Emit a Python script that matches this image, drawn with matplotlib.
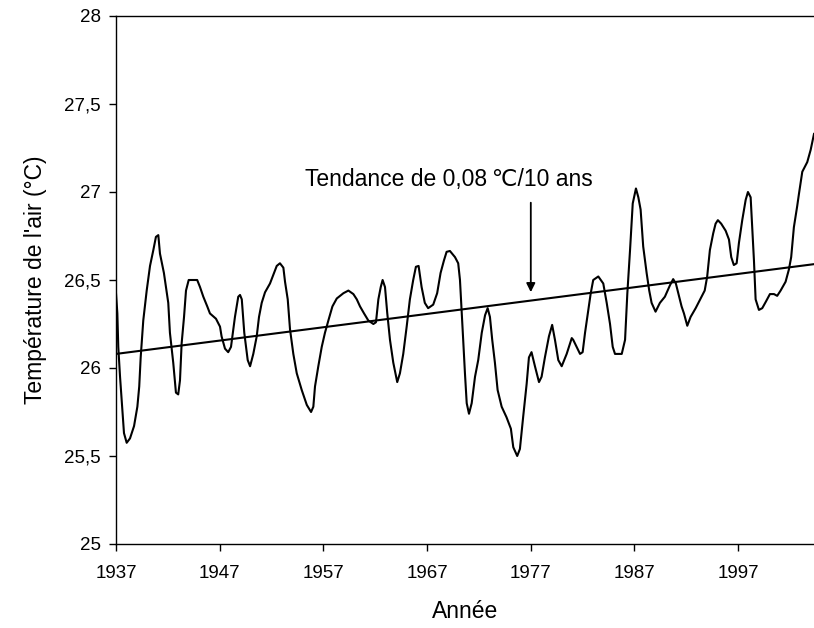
import matplotlib
matplotlib.use('Agg')
import matplotlib.pyplot as plt
from matplotlib.ticker import FuncFormatter

plt.rcParams['font.family'] = ['Liberation Sans', 'DejaVu Sans']

# air temperature curve (smoothed)
years = [
    1937.00, 1937.13, 1937.22, 1937.39, 1937.64, 1937.77, 1938.03, 1938.35, 1938.74, 1939.06,
    1939.24, 1939.38, 1939.63, 1939.96, 1940.28, 1940.60, 1940.85, 1941.08, 1941.24, 1941.62,
    1942.04, 1942.20, 1942.52, 1942.78, 1943.00, 1943.17, 1943.33, 1943.56, 1943.75, 1944.01,
    1944.83, 1945.10, 1945.42, 1945.80, 1946.06, 1946.64, 1947.03, 1947.18, 1947.51, 1947.82,
    1948.09, 1948.47, 1948.79, 1948.96, 1949.13, 1949.37, 1949.70, 1949.93, 1950.24, 1950.57,
    1950.79, 1951.05, 1951.37, 1951.85, 1952.17, 1952.50, 1952.81, 1953.14, 1953.30, 1953.56,
    1953.78, 1954.10, 1954.43, 1954.91, 1955.40, 1955.81, 1956.03, 1956.19, 1956.51, 1956.84,
    1957.15, 1957.48, 1957.87, 1958.29, 1958.93, 1959.41, 1959.89, 1960.22, 1960.53, 1960.92,
    1961.33, 1961.82, 1962.07, 1962.30, 1962.53, 1962.71, 1962.94, 1963.16, 1963.42, 1963.74,
    1964.12, 1964.38, 1964.70, 1965.03, 1965.34, 1965.66, 1965.92, 1966.18, 1966.47, 1966.78,
    1967.10, 1967.59, 1967.97, 1968.30, 1968.62, 1968.88, 1969.20, 1969.69, 1970.00, 1970.17,
    1970.32, 1970.48, 1970.65, 1970.82, 1971.04, 1971.30, 1971.62, 1971.93, 1972.27, 1972.59,
    1972.84, 1973.06, 1973.28, 1973.54, 1973.80, 1974.19, 1974.66, 1975.08, 1975.31, 1975.69,
    1975.95, 1976.26, 1976.60, 1976.82, 1977.07, 1977.40, 1977.79, 1978.04, 1978.36, 1978.75,
    1979.06, 1979.33, 1979.65, 1979.98, 1980.46, 1980.95, 1981.09, 1981.75, 1982.00, 1982.23,
    1982.55, 1982.78, 1983.02, 1983.51, 1983.99, 1984.32, 1984.64, 1984.90, 1985.12, 1985.77,
    1986.09, 1986.31, 1986.57, 1986.83, 1987.14, 1987.37, 1987.59, 1987.84, 1988.17, 1988.42,
    1988.65, 1989.03, 1989.45, 1989.93, 1990.42, 1990.73, 1990.99, 1991.22, 1991.54, 1991.77,
    1992.09, 1992.41, 1992.90, 1993.38, 1993.77, 1994.01, 1994.27, 1994.59, 1994.82, 1995.04,
    1995.36, 1995.79, 1996.11, 1996.33, 1996.58, 1996.85, 1997.07, 1997.39, 1997.72, 1997.94,
    1998.20, 1998.35, 1998.52, 1998.68, 1999.00, 1999.32, 1999.65, 2000.06, 2000.45, 2000.76,
    2001.09, 2001.57, 2001.89, 2002.11, 2002.37, 2002.69, 2002.86, 2003.18, 2003.66, 2003.99,
    2004.31,
]
temps = [
    26.425, 26.31, 26.12, 25.95, 25.74, 25.63, 25.575, 25.60, 25.67, 25.78,
    25.895, 26.06, 26.27, 26.44, 26.58, 26.67, 26.745, 26.755, 26.65, 26.54,
    26.37, 26.20, 26.03, 25.86, 25.85, 25.93, 26.14, 26.29, 26.44, 26.50,
    26.50, 26.46, 26.405, 26.35, 26.31, 26.28, 26.235, 26.18, 26.11, 26.09,
    26.12, 26.29, 26.405, 26.415, 26.39, 26.20, 26.045, 26.01, 26.08, 26.18,
    26.29, 26.37, 26.43, 26.48, 26.53, 26.58, 26.595, 26.57, 26.49, 26.39,
    26.22, 26.08, 25.97, 25.875, 25.79, 25.75, 25.78, 25.895, 26.01, 26.12,
    26.20, 26.27, 26.35, 26.395, 26.425, 26.44, 26.42, 26.39, 26.35, 26.31,
    26.27, 26.25, 26.26, 26.39, 26.46, 26.50, 26.46, 26.31, 26.16, 26.03,
    25.92, 25.97, 26.08, 26.235, 26.39, 26.50, 26.575, 26.58, 26.46, 26.37,
    26.34, 26.36, 26.425, 26.54, 26.61, 26.66, 26.665, 26.63, 26.595, 26.50,
    26.33, 26.16, 25.97, 25.80, 25.74, 25.80, 25.95, 26.045, 26.20, 26.30,
    26.34, 26.29, 26.16, 26.03, 25.875, 25.78, 25.72, 25.655, 25.55, 25.50,
    25.54, 25.72, 25.91, 26.06, 26.09, 26.01, 25.92, 25.95, 26.06, 26.18,
    26.245, 26.16, 26.045, 26.01, 26.08, 26.17, 26.16, 26.08, 26.09, 26.20,
    26.33, 26.425, 26.50, 26.52, 26.48, 26.37, 26.25, 26.12, 26.08, 26.08,
    26.16, 26.425, 26.67, 26.935, 27.02, 26.97, 26.90, 26.69, 26.54, 26.44,
    26.37, 26.32, 26.37, 26.405, 26.47, 26.505, 26.48, 26.425, 26.35, 26.31,
    26.24, 26.29, 26.34, 26.395, 26.44, 26.52, 26.67, 26.765, 26.82, 26.84,
    26.82, 26.78, 26.73, 26.63, 26.585, 26.595, 26.71, 26.84, 26.955, 27.00,
    26.97, 26.80, 26.61, 26.39, 26.33, 26.34, 26.375, 26.42, 26.42, 26.41,
    26.44, 26.49, 26.56, 26.63, 26.80, 26.92, 26.99, 27.115, 27.17, 27.24,
    27.33,
]

# linear trend
trend_years = [1937, 2004.31]
trend_temps = [26.08, 26.59]

x_ticks = [1937, 1947, 1957, 1967, 1977, 1987, 1997]
y_ticks = [25, 25.5, 26, 26.5, 27, 27.5, 28]

fig = plt.figure(figsize=(8.14, 6.28), dpi=100)
ax = fig.add_axes([116 / 814, 1 - 544 / 628, 1 - 116 / 814, (544 - 16) / 628])

ax.plot(years, temps, color='black', lw=1.5)
ax.plot(trend_years, trend_temps, color='black', lw=1.5)

ax.set_xlim(1937, 2004.31)
ax.set_ylim(25, 28)
ax.set_xticks(x_ticks)
ax.set_yticks(y_ticks)
ax.yaxis.set_major_formatter(FuncFormatter(lambda v, p: ('%g' % v).replace('.', ',')))
ax.tick_params(axis='both', direction='out', length=5, width=1, labelsize=13.5, pad=6)
ax.tick_params(axis='x', pad=10)

for side in ['left', 'bottom', 'top']:
    ax.spines[side].set_linewidth(1)
ax.spines['right'].set_visible(False)

ax.set_xlabel('Année', fontsize=16.5, labelpad=13)
ax.set_ylabel("Température de l'air (°C)", fontsize=16.5, labelpad=12)

ax.annotate('', xy=(1977, 26.415), xytext=(1977, 26.955),
            arrowprops=dict(arrowstyle='-|>', color='black', lw=1.3, mutation_scale=13))
ax.text(1969.1, 27.034, 'Tendance de 0,08\u2009\u2103/10 ans', fontsize=16.5,
        ha='center', va='baseline')

fig.savefig('out.png', dpi=100)
